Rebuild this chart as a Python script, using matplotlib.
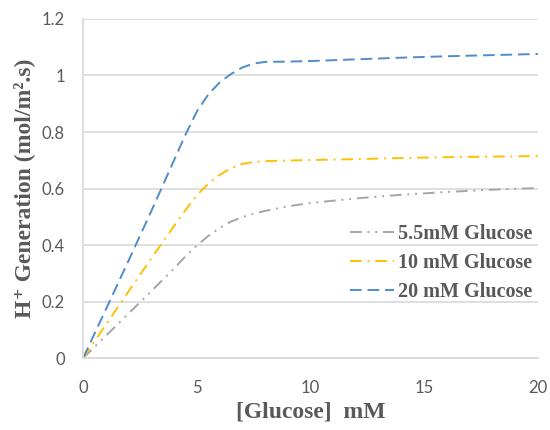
import matplotlib
matplotlib.use("Agg")
import matplotlib.pyplot as plt

# ── данные ──
x_20 = [0, 1, 2, 3, 3.5, 4, 4.5, 5, 5.5, 6, 6.5, 7, 7.5, 8, 9, 10, 12, 14, 16, 18, 20]
y_20 = [0, 0.172, 0.345, 0.52, 0.61, 0.70, 0.79, 0.872, 0.932, 0.975, 1.005, 1.028,
        1.042, 1.048, 1.049, 1.051, 1.057, 1.063, 1.068, 1.072, 1.076]

x_10 = [0, 1, 2, 3, 3.5, 4, 4.5, 5, 5.5, 6, 6.5, 7, 7.5, 8, 10, 12, 14, 16, 18, 20]
y_10 = [0, 0.118, 0.236, 0.353, 0.41, 0.468, 0.523, 0.576, 0.617, 0.648, 0.672, 0.687,
        0.694, 0.697, 0.701, 0.704, 0.708, 0.711, 0.713, 0.715]

x_55 = [0, 1, 2, 3, 3.5, 4, 4.5, 5, 5.5, 6, 6.5, 7, 7.5, 8, 9, 10, 12, 14, 16, 18, 20]
y_55 = [0, 0.079, 0.158, 0.237, 0.277, 0.317, 0.36, 0.398, 0.432, 0.46, 0.483, 0.499,
        0.511, 0.521, 0.537, 0.549, 0.565, 0.578, 0.588, 0.596, 0.602]

labels = ["5.5mM Glucose", "10 mM Glucose", "20 mM Glucose"]
x_ticks = [0, 5, 10, 15, 20]
y_ticks = [0, 0.2, 0.4, 0.6, 0.8, 1, 1.2]
y_tick_labels = ["0", "0.2", "0.4", "0.6", "0.8", "1", "1.2"]

SERIF = ["Liberation Serif", "DejaVu Serif"]
TXT = "#595959"

fig = plt.figure(figsize=(5.5, 4.3), dpi=100)
ax = fig.add_axes([0.151, 0.167, 0.827, 0.789])

ax.plot(x_55, y_55, color="#a5a5a5", lw=1.4, ls=(0, (6, 3, 1, 3, 1, 3)), label=labels[0])
ax.plot(x_10, y_10, color="#ffc000", lw=1.4, ls=(0, (6, 3, 1, 3)), label=labels[1])
ax.plot(x_20, y_20, color="#4f8cc9", lw=1.4, ls=(0, (6, 3)), label=labels[2])

ax.set_xlim(0, 20)
ax.set_ylim(0, 1.2)
ax.set_xticks(x_ticks)
ax.set_yticks(y_ticks)
ax.set_yticklabels(y_tick_labels)
ax.tick_params(length=0, labelsize=12, labelcolor=TXT)
ax.tick_params(axis="x", pad=16)
ax.tick_params(axis="y", pad=13)
for lab in ax.get_xticklabels() + ax.get_yticklabels():
    lab.set_fontfamily("Lato")

ax.grid(axis="y", color="#d9d9d9", lw=1.2)
ax.set_axisbelow(True)
for side in ["top", "right"]:
    ax.spines[side].set_visible(False)
for side in ["left", "bottom"]:
    ax.spines[side].set_color("#d9d9d9")
    ax.spines[side].set_linewidth(1.2)

ax.set_xlabel("[Glucose]  mM", family=SERIF, weight="bold", fontsize=17, color=TXT, labelpad=4)
ax.set_ylabel("H\u207a Generation (mol/m\u00b2.s)", family=SERIF, weight="bold",
              fontsize=17, color=TXT, labelpad=5)

leg = ax.legend(loc="center right", bbox_to_anchor=(1.015, 0.28), frameon=False,
                prop={"family": SERIF, "weight": "bold", "size": 14.5},
                handlelength=2.2, handletextpad=0.2, labelspacing=0.45,
                borderaxespad=0.2)
for t in leg.get_texts():
    t.set_color(TXT)

fig.savefig("out.png", dpi=100)
